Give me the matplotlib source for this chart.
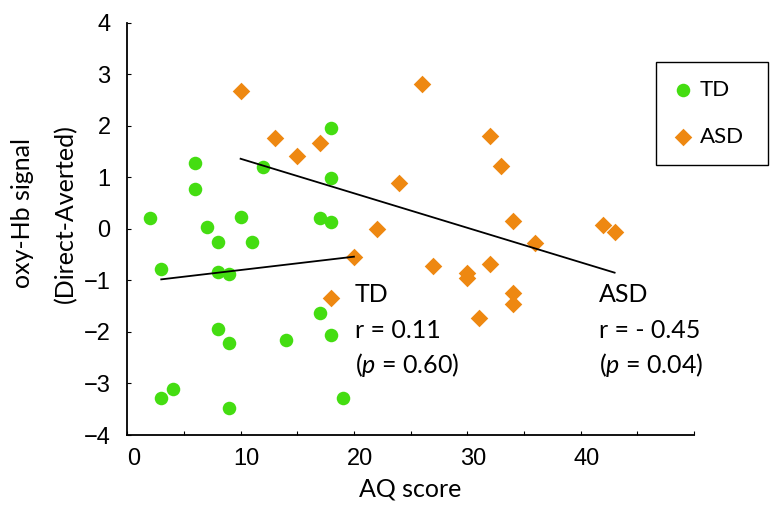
import matplotlib.pyplot as plt
from matplotlib.ticker import FixedLocator
import matplotlib.transforms as mtransforms

# data
td_aq = [18, 6, 12, 18, 6, 2, 10, 17, 18, 7, 8, 11, 3, 8, 9, 17, 8, 9, 14, 18, 4, 3, 9, 19]
td_hb = [1.96, 1.28, 1.20, 0.98, 0.77, 0.21, 0.23, 0.22, 0.14, 0.04, -0.25, -0.25,
         -0.77, -0.83, -0.87, -1.64, -1.95, -2.21, -2.15, -2.05, -3.10, -3.28, -3.47, -3.29]

asd_aq = [10, 13, 15, 17, 20, 18, 26, 32, 33, 24, 22, 34, 42, 43, 36, 27, 32, 30, 30, 34, 34, 31]
asd_hb = [2.67, 1.77, 1.42, 1.67, -0.54, -1.34, 2.82, 1.81, 1.22, 0.89, -0.01, 0.16,
          0.08, -0.07, -0.28, -0.72, -0.69, -0.85, -0.95, -1.25, -1.45, -1.72]

# regression lines (end points as drawn)
td_fit_x = [3, 20]
td_fit_y = [-0.98, -0.54]
asd_fit_x = [10, 43]
asd_fit_y = [1.36, -0.85]

x_ticks = [0, 10, 20, 30, 40]
x_minor = [5, 15, 25, 35, 45, 50]
y_ticks = [-4, -3, -2, -1, 0, 1, 2, 3, 4]

green = '#44DD11'
orange = '#EE8811'

plt.rcParams['font.family'] = ['Lato', 'DejaVu Sans']
plt.rcParams['mathtext.fontset'] = 'custom'
plt.rcParams['mathtext.rm'] = 'Lato'
plt.rcParams['mathtext.it'] = 'Lato:italic'

fig = plt.figure(figsize=(7.77, 5.11), dpi=100)
ax = fig.add_axes([0.1638, 0.1487, 0.7293, 0.8069])

td_pts = ax.scatter(td_aq, td_hb, s=95, marker='o', color=green, linewidths=0, zorder=2, label='TD')
asd_pts = ax.scatter(asd_aq, asd_hb, s=80, marker='D', color=orange, linewidths=0, zorder=2, label='ASD')

ax.plot(td_fit_x, td_fit_y, color='black', lw=1.3, zorder=3)
ax.plot(asd_fit_x, asd_fit_y, color='black', lw=1.3, zorder=3)

ax.set_xlim(0, 50)
ax.set_ylim(-4, 4)

for s in ['top', 'right']:
    ax.spines[s].set_visible(False)
for s in ['left', 'bottom']:
    ax.spines[s].set_linewidth(1.3)

ax.xaxis.set_major_locator(FixedLocator(x_ticks))
ax.xaxis.set_minor_locator(FixedLocator(x_minor))
ax.set_yticks(y_ticks)
ax.tick_params(axis='both', which='both', direction='in', length=3, width=0.8)
ax.tick_params(axis='x', which='major', pad=9)
ax.tick_params(axis='y', which='major', pad=12)

tick_fam = ['Liberation Sans Narrow', 'Liberation Sans', 'DejaVu Sans']
for lab in ax.get_xticklabels() + ax.get_yticklabels():
    lab.set_family(tick_fam)
    lab.set_fontsize(17)

# labels sit a little right of their ticks in the original
offset = mtransforms.ScaledTranslation(6 / 100, 0, fig.dpi_scale_trans)
for lab in ax.get_xticklabels():
    lab.set_transform(lab.get_transform() + offset)

ax.set_xlabel('AQ score', fontsize=18, labelpad=6)
ax.set_ylabel('oxy-Hb signal\n(Direct-Averted)', fontsize=18, linespacing=2.0)
ax.yaxis.set_label_coords(-0.089, 0.538)

ax.text(20.1, -1.42, 'TD', fontsize=18, va='baseline')
ax.text(20.1, -2.12, 'r = 0.11', fontsize=18, va='baseline')
ax.text(20.1, -2.80, '($\\mathit{p}$ = 0.60)', fontsize=18, va='baseline')
ax.text(41.6, -1.42, 'ASD', fontsize=18, va='baseline')
ax.text(41.6, -2.12, 'r = - 0.45', fontsize=18, va='baseline')
ax.text(41.6, -2.80, '($\\mathit{p}$ = 0.04)', fontsize=18, va='baseline')

# legend box, stretched to the width of the original frame
leg_w, leg_h = 0.1441, 0.2074
leg = ax.legend(handles=[td_pts, asd_pts], loc='upper left', mode='expand',
                bbox_to_anchor=(0.844, 0.878 - leg_h, leg_w, leg_h),
                bbox_transform=fig.transFigure,
                fontsize=16, frameon=True, fancybox=False, framealpha=1,
                edgecolor='black', borderpad=0.8, labelspacing=1.2,
                handlelength=0.84, handletextpad=0.35, borderaxespad=0)
leg.get_frame().set_linewidth(1.0)

plt.savefig('out.png', dpi=100)
